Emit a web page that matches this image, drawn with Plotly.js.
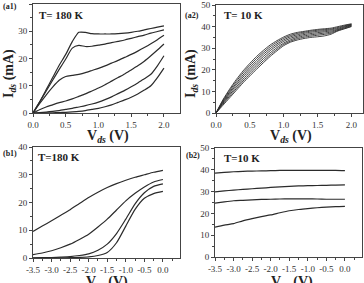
<!DOCTYPE html>
<html>
<head>
<meta charset="utf-8">
<script src="https://cdn.plot.ly/plotly-3.0.1.min.js"></script>
<style>
  html, body { margin: 0; padding: 0; background: #fff; }
  #chart { width: 364px; height: 283px; }
</style>
</head>
<body>
<div id="chart"></div>
<script>
// ---- (a1) output curves at T = 180 K: Ids (mA) vs Vds (V), one curve per gate bias
const vdsGrid = [0, 0.1, 0.2, 0.3, 0.4, 0.5, 0.6, 0.7, 0.8, 0.9, 1.0,
                 1.1, 1.2, 1.3, 1.4, 1.5, 1.6, 1.7, 1.8, 1.9, 2.0];
const idsA1_1 = [0, 4, 8.5, 13, 17.5, 21.5, 26.2, 29.6, 29.6, 29.1, 29, 29, 29, 29.1, 29.3, 29.6, 30, 30.5, 31, 31.5, 32];
const idsA1_2 = [0, 4, 8, 12, 16, 19.8, 23.8, 24.8, 24.4, 24.5, 24.9, 25.3, 25.8, 26.3, 26.8, 27.4, 28, 28.6, 29.3, 29.9, 30.5];
const idsA1_3 = [0, 3.4, 6.6, 9.5, 12, 13.4, 13.8, 14.2, 14.8, 15.6, 16.4, 17.3, 18.3, 19.3, 20.4, 21.5, 22.7, 24, 25.4, 26.9, 28.5];
const idsA1_4 = [0, 1.2, 2.2, 3, 3.8, 4.4, 5.2, 6.1, 7, 8.1, 9.2, 10.4, 11.7, 13, 14.3, 15.8, 17.3, 19, 21, 23.1, 25.3];
const idsA1_5 = [0, 0.15, 0.35, 0.6, 0.9, 1.3, 1.7, 2.2, 2.7, 3.3, 4, 4.9, 5.9, 7.1, 8.3, 9.6, 11, 12.6, 14.2, 17.3, 21];
const idsA1_6 = [0, 0, 0.05, 0.1, 0.15, 0.25, 0.4, 0.6, 0.9, 1.3, 1.7, 2.3, 3, 3.9, 4.8, 5.8, 7, 8.4, 10, 13, 16.5];

// ---- (a2) output curves at T = 10 K
const idsA2_1 = [0, 6, 11, 15.5, 19.5, 23, 26.2, 29, 31.5, 33.5, 35.2, 36.5, 37.3, 37.8, 38.3, 38.7, 39, 39.3, 40, 40.7, 41.3];
const idsA2_2 = [0, 5.6, 10.4, 14.7, 18.6, 22.1, 25.3, 28.1, 30.7, 32.8, 34.6, 35.9, 36.8, 37.4, 37.9, 38.3, 38.6, 38.9, 39.6, 40.4, 41.1];
const idsA2_3 = [0, 5.2, 9.7, 13.8, 17.6, 21.1, 24.3, 27.2, 29.8, 32, 33.9, 35.3, 36.2, 36.9, 37.4, 37.8, 38.1, 38.5, 39.2, 40.1, 40.9];
const idsA2_4 = [0, 4.8, 9.1, 13, 16.7, 20.1, 23.3, 26.2, 28.9, 31.2, 33.2, 34.6, 35.6, 36.3, 36.8, 37.2, 37.6, 38, 38.8, 39.8, 40.7];
const idsA2_5 = [0, 4.4, 8.4, 12.1, 15.7, 19.1, 22.3, 25.2, 27.9, 30.3, 32.4, 33.9, 35, 35.7, 36.2, 36.6, 37, 37.5, 38.5, 39.5, 40.5];
const idsA2_6 = [0, 4, 7.7, 11.3, 14.8, 18.1, 21.3, 24.2, 27, 29.5, 31.8, 33.3, 34.4, 35.1, 35.6, 36, 36.4, 37, 38.2, 39.2, 40.2];
const idsA2_7 = [0, 3.5, 7, 10.5, 14, 17.2, 20.3, 23.3, 26.2, 28.8, 31.2, 32.8, 33.8, 34.5, 35, 35.3, 35.7, 36.5, 38, 39, 40];

// ---- (b1) transfer curves at T = 180 K: Ids (mA) vs Vgs (V)
const vgsGrid = [-3.5, -3.25, -3.0, -2.75, -2.5, -2.25, -2.0, -1.75, -1.5, -1.25, -1.0, -0.75, -0.5, -0.25, 0];
const idsB1_1 = [9.6, 11.5, 13.4, 15.4, 17.4, 19.6, 21.8, 23.7, 25.4, 26.8, 28, 29.1, 30, 30.9, 31.6];
const idsB1_2 = [1.2, 1.8, 2.6, 3.7, 5, 6.7, 8.6, 11.2, 14, 17.3, 20.6, 23.3, 25.6, 27.4, 28.3];
const idsB1_3 = [0.05, 0.1, 0.15, 0.3, 0.5, 0.9, 1.5, 2.8, 5, 8.8, 14, 19.5, 23.5, 25.8, 26.7];
const idsB1_4 = [0, 0, 0, 0.05, 0.1, 0.2, 0.4, 0.9, 2, 5.5, 11.5, 17.5, 21.5, 23.2, 24];

// ---- (b2) transfer curves at T = 10 K
const idsB2_1 = [38.5, 38.8, 39.1, 39.3, 39.4, 39.5, 39.6, 39.7, 39.7, 39.7, 39.7, 39.7, 39.7, 39.7, 39.6];
const idsB2_2 = [29.9, 30.3, 30.7, 31, 31.3, 31.6, 31.9, 32.2, 32.4, 32.6, 32.7, 32.8, 32.9, 33, 33.1];
const idsB2_3 = [24.7, 25.3, 25.8, 26, 26.2, 26.4, 26.5, 26.6, 26.7, 26.7, 26.7, 26.6, 26.5, 26.5, 26.5];
const idsB2_4 = [13.7, 14.6, 15.3, 16.6, 17.6, 18.5, 19.3, 20.3, 21.2, 21.8, 22.2, 22.6, 22.9, 23.1, 23.2];

// ---- tick labels
const vdsTickVals = [0, 0.5, 1.0, 1.5, 2.0];
const vdsTickText = ['0.0', '0.5', '1.0', '1.5', '2.0'];
const vgsTickVals = [-3.5, -3.0, -2.5, -2.0, -1.5, -1.0, -0.5, 0];
const vgsTickText = ['-3.5', '-3.0', '-2.5', '-2.0', '-1.5', '-1.0', '-0.5', '0.0'];
const vgsMinorVals = [-3.25, -2.75, -2.25, -1.75, -1.25, -0.75, -0.25, 0.25];

const FONT = 'Liberation Serif, Times New Roman, serif';

function curve(x, y, xa, ya, w) {
  return { x: x, y: y, xaxis: xa, yaxis: ya, type: 'scatter', mode: 'lines',
           line: { color: '#2b2b2b', width: w || 1.2, shape: 'spline', smoothing: 0.6 },
           hoverinfo: 'skip', showlegend: false };
}

const traces = [
  ...[idsA1_1, idsA1_2, idsA1_3, idsA1_4, idsA1_5, idsA1_6].map(s => curve(vdsGrid, s, 'x', 'y')),
  ...[idsA2_1, idsA2_2, idsA2_3, idsA2_4, idsA2_5, idsA2_6, idsA2_7].map(s => curve(vdsGrid, s, 'x2', 'y2', 0.9)),
  ...[idsB1_1, idsB1_2, idsB1_3, idsB1_4].map(s => curve(vgsGrid, s, 'x3', 'y3')),
  ...[idsB2_1, idsB2_2, idsB2_3, idsB2_4].map(s => curve(vgsGrid, s, 'x4', 'y4')),
];

const W = 364, H = 283;
const px = v => v / W;
const py = v => 1 - v / H;

function axisBase(extra) {
  return Object.assign({
    showline: true, linecolor: '#444', linewidth: 1, mirror: true,
    ticks: 'outside', ticklen: 3, tickwidth: 1, tickcolor: '#444',
    showgrid: false, zeroline: false, fixedrange: true,
    tickfont: { family: FONT, size: 9, color: '#333' },
  }, extra);
}

const vdsX = (dom, anchor, rng) => axisBase({
  domain: dom, anchor: anchor, range: rng,
  tickmode: 'array', tickvals: vdsTickVals, ticktext: vdsTickText,
  minor: { ticks: 'outside', ticklen: 2, tickcolor: '#444', tickmode: 'linear', tick0: 0.25, dtick: 0.5 },
});
const vgsX = (dom, anchor, rng) => axisBase({
  domain: dom, anchor: anchor, range: rng,
  tickmode: 'array', tickvals: vgsTickVals, ticktext: vgsTickText,
  minor: { ticks: 'outside', ticklen: 2, tickcolor: '#444', tickmode: 'array', tickvals: vgsMinorVals },
});
const idsY = (dom, anchor, top) => axisBase({
  domain: dom, anchor: anchor, range: [0, top],
  tickmode: 'linear', tick0: 0, dtick: 10,
  minor: { ticks: 'outside', ticklen: 2, tickcolor: '#444', tickmode: 'linear', tick0: 5, dtick: 10 },
});

const layout = {
  width: W, height: H,
  margin: { l: 0, r: 0, t: 0, b: 0 },
  paper_bgcolor: '#fff', plot_bgcolor: '#fff',
  showlegend: false,
  xaxis:  vdsX([px(33), px(180)], 'y', [0, 2.245]),
  yaxis:  idsY([py(113), py(4)], 'x', 40),
  xaxis2: vdsX([px(216), px(363)], 'y2', [0, 2.17]),
  yaxis2: idsY([py(113), py(5)], 'x2', 50),
  xaxis3: vgsX([px(33), px(180)], 'y3', [-3.5, 0.46]),
  yaxis3: idsY([py(258), py(147)], 'x3', 40),
  xaxis4: vgsX([px(215), px(362)], 'y4', [-3.5, 0.46]),
  yaxis4: idsY([py(257), py(148)], 'x4', 50),
  annotations: [
    // panel tags
    { text: '<b>(a1)</b>', x: px(1), y: py(7), xanchor: 'left', yanchor: 'middle', size: 8 },
    { text: '<b>(a2)</b>', x: px(183), y: py(15), xanchor: 'left', yanchor: 'middle', size: 8 },
    { text: '<b>(b1)</b>', x: px(1), y: py(153), xanchor: 'left', yanchor: 'middle', size: 8 },
    { text: '<b>(b2)</b>', x: px(184), y: py(155), xanchor: 'left', yanchor: 'middle', size: 8 },
    // temperature labels
    { text: '<b>T= 180 K</b>', x: px(37), y: py(15), xanchor: 'left', yanchor: 'middle', size: 11 },
    { text: '<b>T= 10 K</b>', x: px(222), y: py(15), xanchor: 'left', yanchor: 'middle', size: 11 },
    { text: '<b>T=180 K</b>', x: px(36), y: py(157), xanchor: 'left', yanchor: 'middle', size: 11 },
    { text: '<b>T=10 K</b>', x: px(222), y: py(158), xanchor: 'left', yanchor: 'middle', size: 11 },
    // axis titles
    { text: '<b>V<sub><i>ds</i></sub> (V)</b>', x: px(108), y: py(126), xanchor: 'center', yanchor: 'top', size: 14 },
    { text: '<b>V<sub><i>ds</i></sub> (V)</b>', x: px(291), y: py(126), xanchor: 'center', yanchor: 'top', size: 14 },
    { text: '<b>V<sub><i>gs</i></sub> (V)</b>', x: px(107), y: py(272), xanchor: 'center', yanchor: 'top', size: 14 },
    { text: '<b>V<sub><i>gs</i></sub> (V)</b>', x: px(292), y: py(272), xanchor: 'center', yanchor: 'top', size: 14 },
    { text: '<b>I<sub><i>ds</i></sub> (mA)</b>', x: px(9), y: py(74), xanchor: 'center', yanchor: 'middle', size: 14, textangle: -90 },
    { text: '<b>I<sub><i>ds</i></sub> (mA)</b>', x: px(191), y: py(74), xanchor: 'center', yanchor: 'middle', size: 14, textangle: -90 },
  ].map(a => ({
    text: a.text, x: a.x, y: a.y, xref: 'paper', yref: 'paper',
    xanchor: a.xanchor, yanchor: a.yanchor, showarrow: false,
    textangle: a.textangle || 0,
    font: { family: FONT, size: a.size || 9, color: '#222' },
  })),
};

Plotly.newPlot('chart', traces, layout, { staticPlot: true, displayModeBar: false });
</script>
</body>
</html>
